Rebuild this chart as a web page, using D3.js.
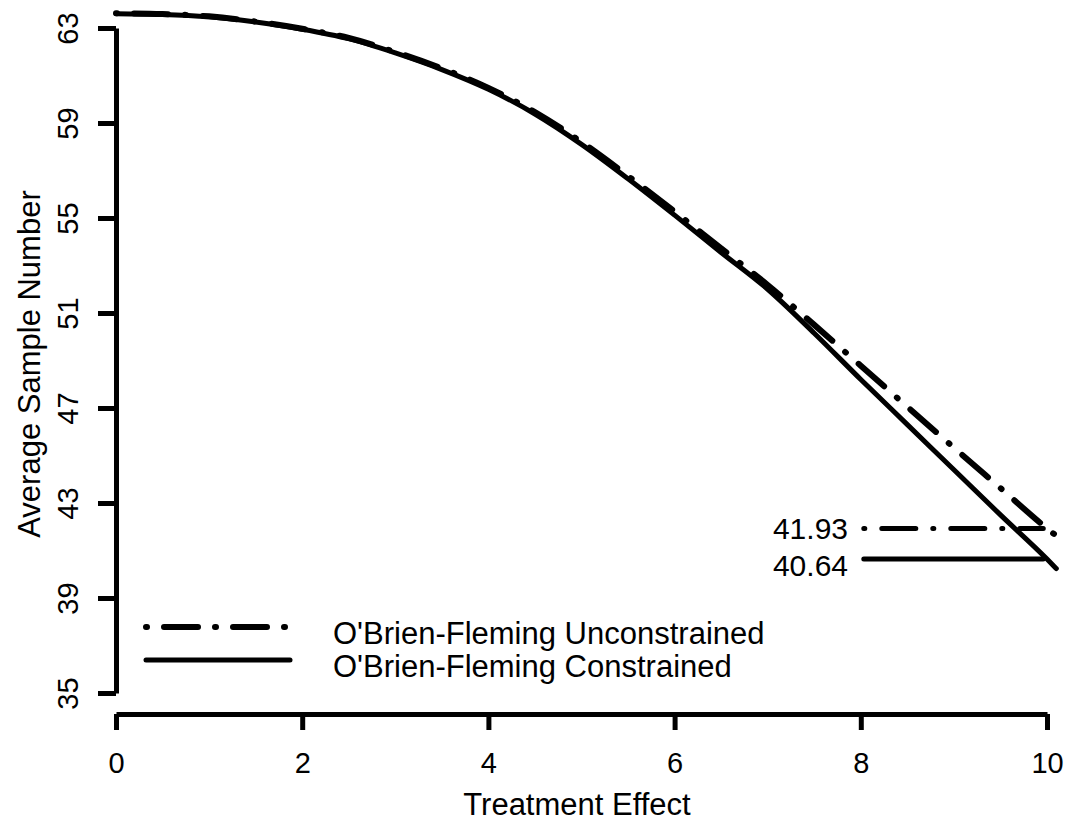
<!DOCTYPE html>
<html>
<head>
<meta charset="utf-8">
<script src="https://cdn.jsdelivr.net/npm/d3@7"></script>
<style>
  body { margin: 0; background: #fff; }
  svg text { font-family: "Liberation Sans", Arial, sans-serif; fill: #000; }
</style>
</head>
<body>
<svg id="chart" width="1076" height="823"></svg>
<script>
// treatment effect grid
var effect = [0, 0.5, 1, 1.5, 2, 2.5, 3, 3.5, 4, 4.5, 5, 5.5, 6, 6.5, 7, 7.5, 8, 8.5, 9, 9.5, 10, 10.1];
// average sample number, O'Brien-Fleming unconstrained (dash-dot)
var asnUnconstrained = [63.62, 63.59, 63.49, 63.27, 62.97, 62.58, 61.99, 61.3, 60.48, 59.46, 58.2, 56.77,
                        55.27, 53.72, 52.18, 50.5, 48.78, 47.05, 45.33, 43.63, 41.93, 41.62];
// average sample number, O'Brien-Fleming constrained (solid)
var asnConstrained = [63.6, 63.57, 63.47, 63.25, 62.95, 62.55, 61.95, 61.25, 60.42, 59.38, 58.1, 56.65,
                      55.12, 53.55, 52.0, 50.15, 48.2, 46.3, 44.4, 42.5, 40.64, 40.24];

var xTicks = [0, 2, 4, 6, 8, 10];
var yTicks = [35, 39, 43, 47, 51, 55, 59, 63];
var seriesNames = ["O'Brien-Fleming Unconstrained", "O'Brien-Fleming Constrained"];
var endLabels = [41.93, 40.64];

var dashDot = "1,17,34,17";

var svg = d3.select("#chart");

var x = d3.scaleLinear().domain([0, 10]).range([116, 1047]);
var y = d3.scaleLinear().domain([35, 63]).range([693, 28]);

// y axis
var yAxis = svg.append("g")
  .attr("transform", "translate(116,0)")
  .call(d3.axisLeft(y).tickValues(yTicks).tickSize(18).tickSizeOuter(0));
yAxis.select(".domain").attr("stroke-width", 5);
yAxis.selectAll(".tick line").attr("stroke-width", 5);
yAxis.selectAll(".tick text")
  .attr("x", null).attr("dy", null)
  .attr("transform", "translate(-38,0) rotate(-90)")
  .attr("text-anchor", "middle")
  .style("font-size", "29px")
  .style("font-family", "'Liberation Sans', Arial, sans-serif");

// x axis
var xAxis = svg.append("g")
  .attr("transform", "translate(0,714)")
  .call(d3.axisBottom(x).tickValues(xTicks).tickSize(16).tickSizeOuter(0));
xAxis.select(".domain").attr("stroke-width", 5);
xAxis.selectAll(".tick line").attr("stroke-width", 5);
xAxis.selectAll(".tick text")
  .attr("y", 59).attr("dy", null)
  .style("font-size", "29px")
  .style("font-family", "'Liberation Sans', Arial, sans-serif");

// axis titles
svg.append("text")
  .attr("x", 577).attr("y", 815)
  .attr("text-anchor", "middle")
  .style("font-size", "31px")
  .text("Treatment Effect");

svg.append("text")
  .attr("transform", "translate(40,364) rotate(-90)")
  .attr("text-anchor", "middle")
  .style("font-size", "31px")
  .text("Average Sample Number");

// curves
var line = d3.line()
  .x(function(d) { return x(d[0]); })
  .y(function(d) { return y(d[1]); })
  .curve(d3.curveMonotoneX);

svg.append("path")
  .datum(d3.zip(effect, asnUnconstrained))
  .attr("d", line)
  .attr("fill", "none")
  .attr("stroke", "#000")
  .attr("stroke-width", 6)
  .attr("stroke-linecap", "round")
  .attr("stroke-dasharray", dashDot);

svg.append("path")
  .datum(d3.zip(effect, asnConstrained))
  .attr("d", line)
  .attr("fill", "none")
  .attr("stroke", "#000")
  .attr("stroke-width", 5)
  .attr("stroke-linecap", "round");

// end value markers at effect = 10
var marks = [
  { v: endLabels[0], dash: dashDot, w: 5, ty: 11 },
  { v: endLabels[1], dash: null, w: 5, ty: 17 }
];
marks.forEach(function(m) {
  svg.append("line")
    .attr("x1", x(8) + 3).attr("x2", x(9.96))
    .attr("y1", y(m.v)).attr("y2", y(m.v))
    .attr("stroke", "#000")
    .attr("stroke-width", m.w)
    .attr("stroke-linecap", "round")
    .attr("stroke-dasharray", m.dash);
  svg.append("text")
    .attr("x", 848).attr("y", y(m.v) + m.ty)
    .attr("text-anchor", "end")
    .style("font-size", "30px")
    .text(m.v.toFixed(2));
});

// legend
var legend = svg.append("g");
var legendY = [627, 660];
seriesNames.forEach(function(name, i) {
  legend.append("line")
    .attr("x1", 146).attr("x2", 290)
    .attr("y1", legendY[i]).attr("y2", legendY[i])
    .attr("stroke", "#000")
    .attr("stroke-width", i === 0 ? 6 : 5)
    .attr("stroke-linecap", "round")
    .attr("stroke-dasharray", i === 0 ? dashDot : null);
  legend.append("text")
    .attr("x", 333).attr("y", legendY[i] + 17)
    .style("font-size", "31px")
    .text(name);
});
</script>
</body>
</html>
